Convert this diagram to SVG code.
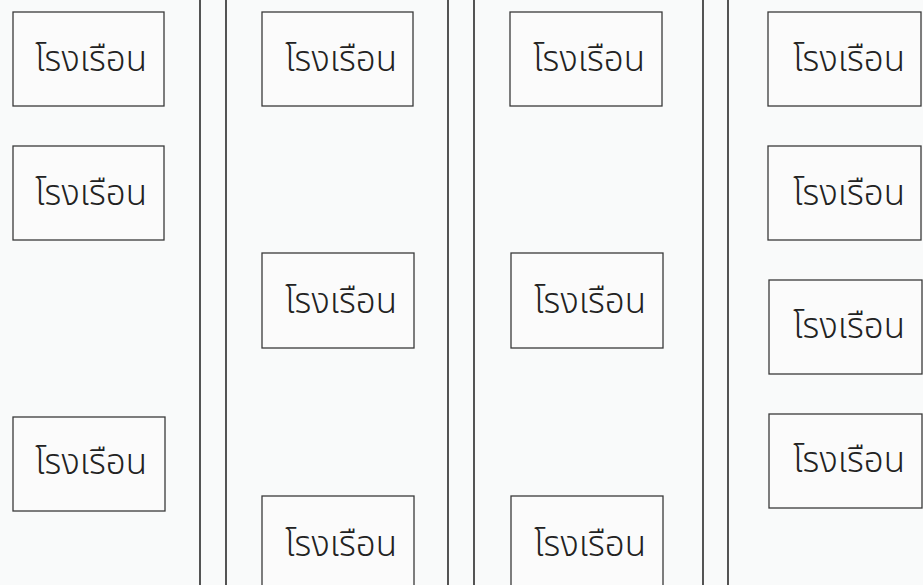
<svg xmlns="http://www.w3.org/2000/svg" width="923" height="585" viewBox="0 0 923 585">
<style>
.bg{fill:#f9fafa}
.box{fill:#fbfbfb;stroke:#3a3a3a;stroke-width:1.3}
.road{stroke:#2a2a2a;stroke-width:1.6;fill:none}
.lbl{font-family:"Noto Sans Thai","Noto Sans","DejaVu Sans",sans-serif;font-size:35px;font-weight:350;fill:#222;text-anchor:middle}
</style>
<rect class="bg" x="0" y="0" width="923" height="585"/>
<g id="roads">
<line class="road" x1="200" y1="0" x2="200" y2="585"/>
<line class="road" x1="226" y1="0" x2="226" y2="585"/>
<line class="road" x1="448" y1="0" x2="448" y2="585"/>
<line class="road" x1="474" y1="0" x2="474" y2="585"/>
<line class="road" x1="703" y1="0" x2="703" y2="585"/>
<line class="road" x1="728" y1="0" x2="728" y2="585"/>
</g>
<g id="n1"><rect class="box" x="13" y="12" width="151" height="94"/><text class="lbl" x="91" y="71" textLength="112" lengthAdjust="spacing">โรงเรือน</text></g>
<g id="n2"><rect class="box" x="13" y="146" width="151" height="94"/><text class="lbl" x="91" y="205" textLength="112" lengthAdjust="spacing">โรงเรือน</text></g>
<g id="n3"><rect class="box" x="13" y="417" width="152" height="94"/><text class="lbl" x="91" y="474" textLength="112" lengthAdjust="spacing">โรงเรือน</text></g>
<g id="n4"><rect class="box" x="262" y="12" width="151" height="94"/><text class="lbl" x="341" y="71" textLength="112" lengthAdjust="spacing">โรงเรือน</text></g>
<g id="n5"><rect class="box" x="262" y="253" width="152" height="95"/><text class="lbl" x="341" y="313" textLength="112" lengthAdjust="spacing">โรงเรือน</text></g>
<g id="n6"><rect class="box" x="262" y="496" width="152" height="100"/><text class="lbl" x="341" y="556" textLength="112" lengthAdjust="spacing">โรงเรือน</text></g>
<g id="n7"><rect class="box" x="510" y="12" width="152" height="94"/><text class="lbl" x="589" y="71" textLength="112" lengthAdjust="spacing">โรงเรือน</text></g>
<g id="n8"><rect class="box" x="511" y="253" width="152" height="95"/><text class="lbl" x="590" y="313" textLength="112" lengthAdjust="spacing">โรงเรือน</text></g>
<g id="n9"><rect class="box" x="511" y="496" width="152" height="100"/><text class="lbl" x="590" y="556" textLength="112" lengthAdjust="spacing">โรงเรือน</text></g>
<g id="n10"><rect class="box" x="768" y="12" width="153" height="94"/><text class="lbl" x="849" y="71" textLength="112" lengthAdjust="spacing">โรงเรือน</text></g>
<g id="n11"><rect class="box" x="768" y="146" width="153" height="94"/><text class="lbl" x="849" y="205" textLength="112" lengthAdjust="spacing">โรงเรือน</text></g>
<g id="n12"><rect class="box" x="769" y="280" width="153" height="94"/><text class="lbl" x="849" y="338" textLength="112" lengthAdjust="spacing">โรงเรือน</text></g>
<g id="n13"><rect class="box" x="769" y="414" width="153" height="94"/><text class="lbl" x="849" y="472" textLength="112" lengthAdjust="spacing">โรงเรือน</text></g>
</svg>
